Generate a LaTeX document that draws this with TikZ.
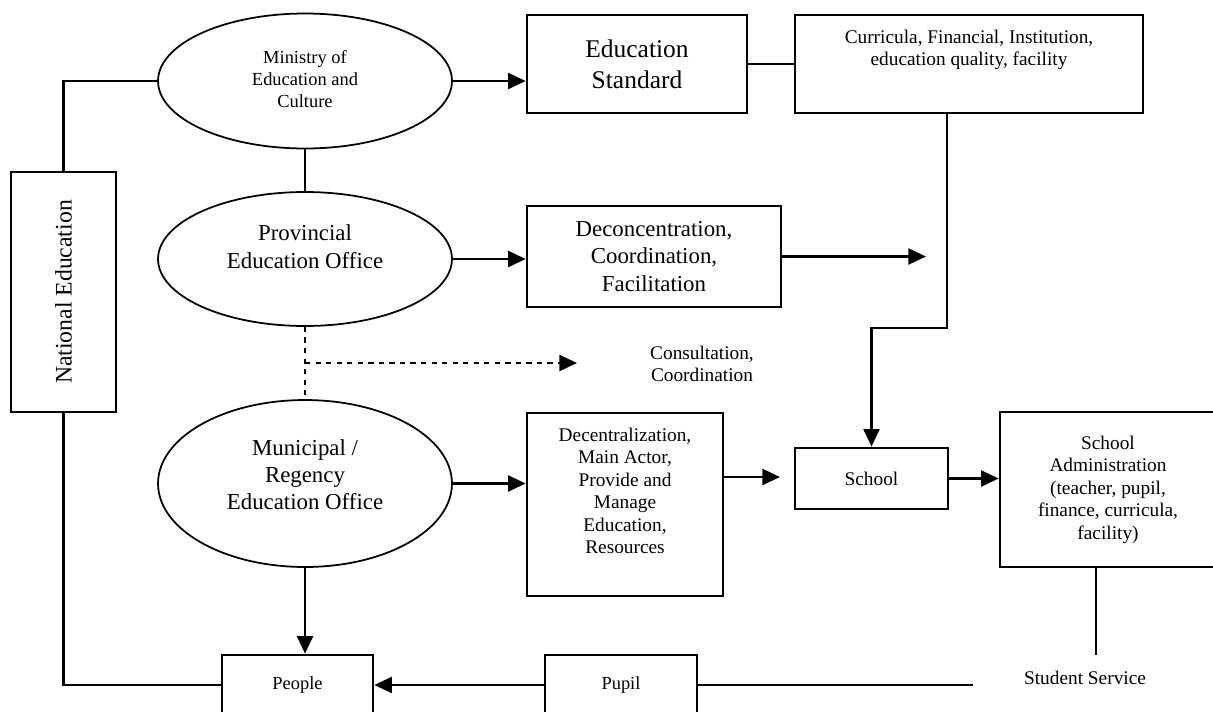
\documentclass[tikz,border=0pt]{standalone}
\usepackage{fontspec}
\usepackage{graphicx}
\setmainfont{Liberation Serif}
\usetikzlibrary{shapes.geometric,arrows.meta}
\tikzset{>={Triangle[length=10pt,width=9pt]}}
\tikzset{box/.style={draw,line width=1.5pt,rectangle,inner sep=0pt,align=center},
  oval/.style={draw,line width=1pt,ellipse,inner sep=0pt,minimum width=5.88cm},
  conn/.style={line width=1.5pt},
  small/.style={font=\fontsize{11}{12.8}\selectfont,align=center},
  mid/.style={font=\fontsize{13}{15.5}\selectfont,align=center}}

\begin{document}
\begin{tikzpicture}[x=0.02cm,y=-0.02cm]
    \useasboundingbox (0,0) rectangle (1213,711);
    % left column
    \node[box,minimum width=2.1cm,minimum height=4.8cm] (nat) at (63.5,292)
        {\rotatebox{90}{\fontsize{13.5}{16}\selectfont National Education}};
    \node[oval,minimum height=2.7cm,
        label={[font=\fontsize{10.5}{12.5}\selectfont,align=center,yshift=1pt]center:{Ministry of\\Education and\\Culture}}] (min) at (305,81) {};
    \node[oval,minimum height=2.68cm,
        label={[mid,yshift=7pt]center:{Provincial\\Education Office}}] (prov) at (305,259) {};
    \node[oval,minimum height=3.34cm,
        label={[mid,yshift=5pt]center:{Municipal /\\Regency\\Education Office}}] (muni) at (305,483.5) {};
    \node[box,minimum width=3.02cm,minimum height=1.2cm,font=\fontsize{10.5}{12}\selectfont] (peo) at (297.5,685) {People};
    % middle column
    \node[box,minimum width=4.4cm,minimum height=1.96cm,font=\fontsize{14.5}{17.5}\selectfont] (edstd) at (637,64) {Education\\Standard};
    \node[box,minimum width=5.08cm,minimum height=2.02cm,mid] (dco) at (654,256.5) {Deconcentration,\\Coordination,\\Facilitation};
    \node[small] (cons) at (702,364) {Consultation,\\Coordination};
    \node[box,minimum width=3.92cm,minimum height=3.66cm,
        label={[small,anchor=north,yshift=-0.2cm]north:{Decentralization,\\Main Actor,\\Provide and\\Manage\\Education,\\Resources}}] (dec) at (625,504.5) {};
    \node[box,minimum width=3.04cm,minimum height=1.2cm,font=\fontsize{10.5}{12}\selectfont] (pup) at (621,685) {Pupil};
    % right column
    \node[box,minimum width=6.96cm,minimum height=1.96cm,
        label={[small,anchor=north,yshift=-0.2cm]north:{Curricula, Financial, Institution,\\education quality, facility}}] (cur) at (969,64) {};
    \node[box,minimum width=3.06cm,minimum height=1.22cm,font=\fontsize{11}{13}\selectfont] (sch) at (871.5,478.5) {School};
    \node[box,minimum width=4.32cm,minimum height=3.1cm,small] (adm) at (1108,489.5)
        {School\\Administration\\(teacher, pupil,\\finance, curricula,\\facility)};
    \node[small] (stu) at (1085,678) {Student Service};
    % free ends
    \coordinate (dcoend) at (926,256.5);
    \coordinate (curbend) at (947,328);
    \coordinate (consend) at (577,363);
    \coordinate (decend) at (780,477);
    \coordinate (stutop) at (1096,655);
    \coordinate (pupend) at (973,685);
    % connectors
    \draw[conn] (nat.north) -- (nat.north |- min.west) -- (min.west);
    \draw[conn] (nat.south) -- (nat.south |- peo.west) -- (peo.west);
    \draw[conn,->] (min.east) -- (min.east -| edstd.west);
    \draw[conn] (edstd.east) -- (cur.west);
    \draw[conn] (min.south) -- (prov.north);
    \draw[conn,->] (prov.east) -- (prov.east -| dco.west);
    \draw[conn,->] (dco.east) -- (dcoend);
    \draw[conn,->] (cur.south -| curbend) -- (curbend) -- (curbend -| sch.north) -- (sch.north);
    \draw[conn,dashed] (prov.south) -- (muni.north);
    \draw[conn,dashed,->] (prov.south |- consend) -- (consend);
    \draw[conn,->] (muni.east) -- (muni.east -| dec.west);
    \draw[conn,->] (dec.east |- decend) -- (decend);
    \draw[conn,->] (sch.east) -- (sch.east -| adm.west);
    \draw[conn] (adm.south -| stutop) -- (stutop);
    \draw[conn,->] (muni.south) -- (muni.south |- peo.north);
    \draw[conn,->] (pup.west) -- (peo.east);
    \draw[conn] (pup.east) -- (pupend);
\end{tikzpicture}
\end{document}
